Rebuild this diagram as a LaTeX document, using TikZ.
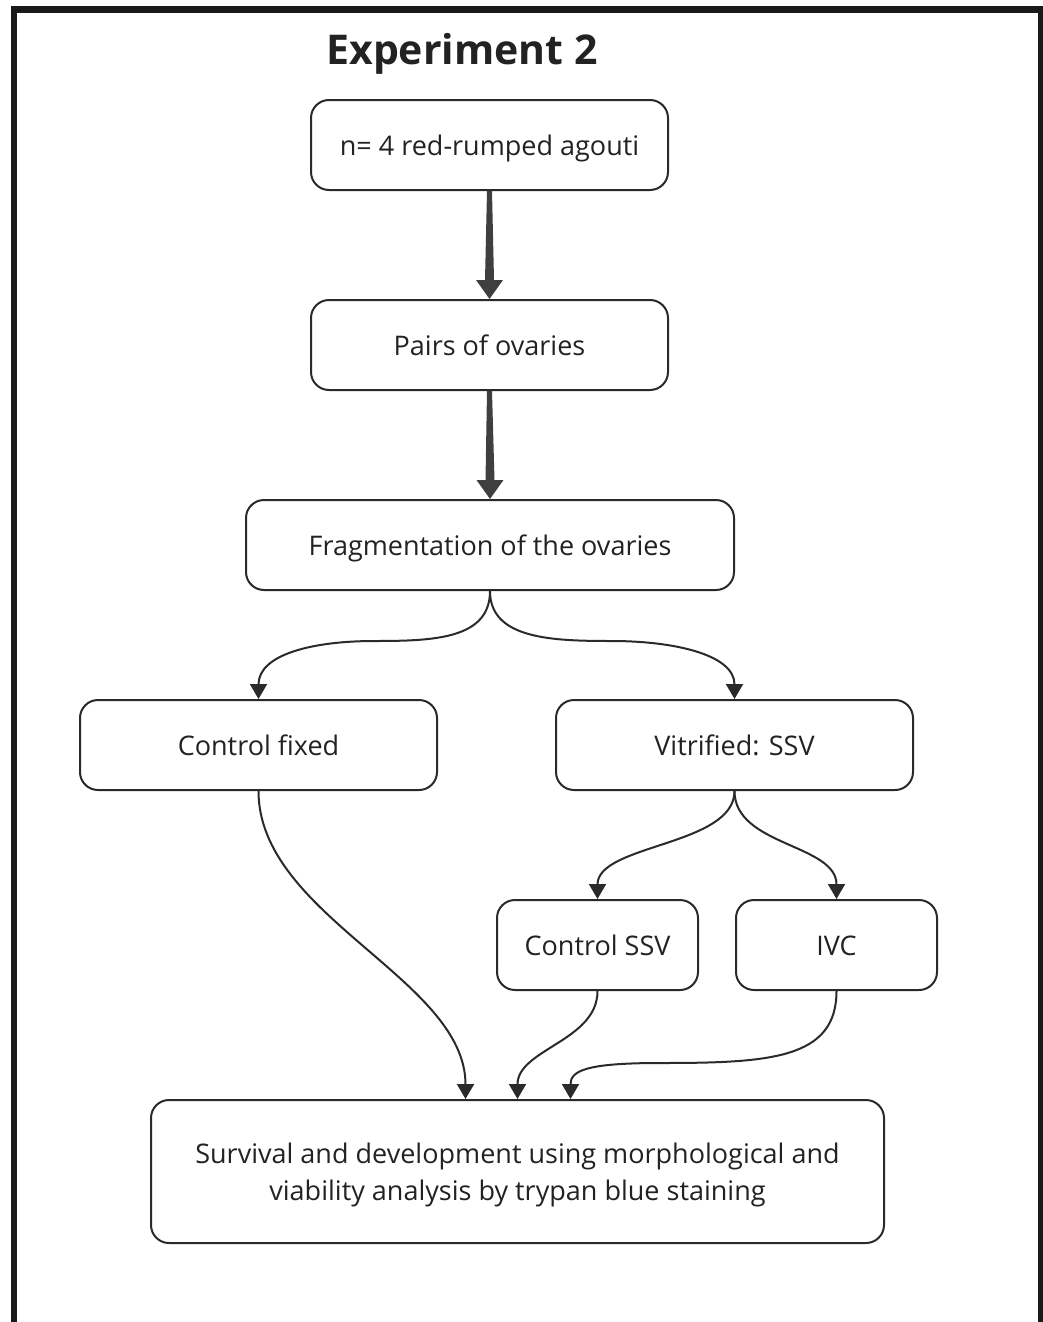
\documentclass[tikz,border=0pt]{standalone}
\usepackage{fontspec}
\setmainfont{Open Sans}
\usetikzlibrary{arrows.meta,calc}
\definecolor{ink}{HTML}{222222}
\definecolor{linec}{HTML}{2A2A2A}
\definecolor{framec}{HTML}{1A1A1A}
\begin{document}
\begin{tikzpicture}[x=1pt,y=-1pt,
  box/.style={draw=linec, line width=2pt, rounded corners=18pt, text=ink,
    font=\fontsize{27}{36.5}\selectfont, align=center, inner sep=0pt,
    minimum height=90pt},
  oneline/.style={text height=23pt, text depth=2pt},
  conn/.style={draw=linec, line width=2pt,
    -{Triangle[width=17pt,length=15pt]}},
  thick arrow/.style={fill=linec!90!white}]
\useasboundingbox (0,0) rectangle (1043,1322);
% frame
\fill[framec] (11,6) rectangle (1043,13);
\fill[framec] (11,6) rectangle (17,1322);
\fill[framec] (1038,6) rectangle (1043,1322);
% title
\node[font=\fontsize{41}{48}\selectfont\bfseries, text=ink, anchor=base, inner sep=0pt] (title) at (462,64) {Experiment 2};
% boxes
\node[box, oneline, minimum width=357pt] (b1) at (489.5,145) {n= 4 red-rumped agouti};
\node[box, oneline, minimum width=357pt] (b2) at (489.5,345) {Pairs of ovaries};
\node[box, oneline, minimum width=488pt] (b3) at (490,545) {Fragmentation of the ovaries};
\node[box, oneline, minimum width=357pt] (b4) at (258.5,745) {Control fixed};
\node[box, oneline, minimum width=357pt] (b5) at (734.5,745) {Vitrified: SSV};
\node[box, oneline, minimum width=201pt] (b6) at (597.5,945) {Control SSV};
\node[box, oneline, minimum width=201pt] (b7) at (836.5,945) {IVC};
\node[box, text depth=0pt, minimum width=733pt, minimum height=143pt] (b8) at (517.5,1171.5)
  {Survival and development using morphological and\\viability analysis by trypan blue staining};
% thick arrows
\fill[thick arrow] ($(b1.south)+(-2.5,0)$) -- ($(b1.south)+(2.5,0)$) -- ($(b2.north)+(4.5,-19)$)
  -- ($(b2.north)+(13.5,-19)$) -- (b2.north) -- ($(b2.north)+(-13.5,-19)$)
  -- ($(b2.north)+(-4.5,-19)$) -- cycle;
\fill[thick arrow] ($(b2.south)+(-2.5,0)$) -- ($(b2.south)+(2.5,0)$) -- ($(b3.north)+(4.5,-19)$)
  -- ($(b3.north)+(13.5,-19)$) -- (b3.north) -- ($(b3.north)+(-13.5,-19)$)
  -- ($(b3.north)+(-4.5,-19)$) -- cycle;
% waypoints
\coordinate (mL) at (374,641);
\coordinate (mR) at (612,641);
\coordinate (mI) at (660,1063);
% curved connectors
\draw[conn] (b3.south) .. controls +(0,48) and +(60,0) .. (mL) .. controls +(-60,0) and +(0,-45) .. (b4.north);
\draw[conn] (b3.south) .. controls +(0,48) and +(-60,0) .. (mR) .. controls +(60,0) and +(0,-45) .. (b5.north);
\draw[conn] (b5.south) .. controls +(0,55) and +(0,-55) .. (b6.north);
\draw[conn] (b5.south) .. controls +(0,55) and +(0,-55) .. (b7.north);
\draw[conn] (b4.south) .. controls +(0,125) and +(0,-120) .. ([xshift=-52pt]b8.north);
\draw[conn] (b6.south) .. controls +(0,50) and +(0,-50) .. (b8.north);
\draw[conn] (b7.south) .. controls +(0,68) and +(110,0) .. (mI) .. controls +(-75,0) and +(0,-28) .. ([xshift=53pt]b8.north);
\end{tikzpicture}
\end{document}
